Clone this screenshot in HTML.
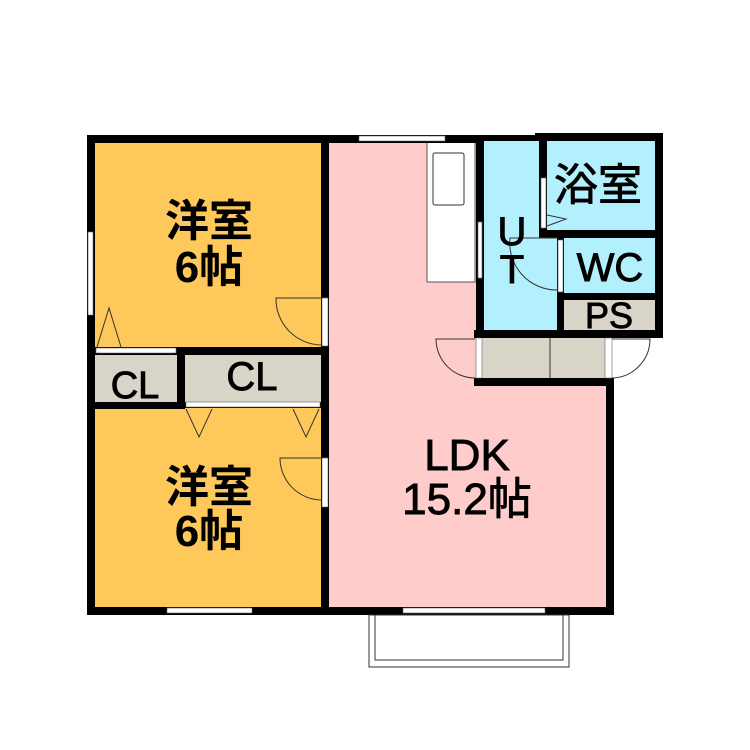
<!DOCTYPE html>
<html><head><meta charset="utf-8"><style>
html,body{margin:0;padding:0;background:#fff;}
svg{display:block;}
text{font-family:"Liberation Sans","Noto Sans CJK JP",sans-serif;fill:#000;text-anchor:middle;}
.m{stroke:#000;stroke-width:0.9;}
</style></head><body>
<svg width="750" height="750" viewBox="0 0 750 750" xmlns="http://www.w3.org/2000/svg">
<rect x="95" y="143" width="226" height="206" fill="#FEC95A"/>
<rect x="95" y="407" width="226" height="200" fill="#FEC95A"/>
<rect x="95" y="352" width="82" height="50" fill="#D8D4C7"/>
<rect x="185" y="352" width="136" height="50" fill="#D8D4C7"/>
<rect x="329" y="143" width="277" height="464" fill="#FFCCCC"/>
<rect x="484" y="141" width="73" height="189" fill="#B3F0FD"/>
<rect x="547" y="141" width="108" height="89" fill="#B3F0FD"/>
<rect x="564" y="238" width="91" height="55" fill="#B3F0FD"/>
<rect x="564" y="300" width="91" height="30" fill="#D8D4C7"/>
<rect x="482" y="338" width="123" height="40" fill="#D8D4C7"/>
<line x1="550" y1="338" x2="550" y2="378" stroke="#333" stroke-width="1"/>
<rect x="427" y="142" width="48" height="140" fill="#fff" stroke="#555" stroke-width="1"/>
<rect x="433" y="153" width="31" height="52" rx="2" fill="#fff" stroke="#333" stroke-width="1"/>
<g fill="#000">
<rect x="87" y="135" width="393" height="8"/>
<rect x="476" y="135" width="187" height="6"/>
<rect x="535" y="133" width="128" height="8"/>
<rect x="87" y="135" width="8" height="480"/>
<rect x="87" y="607" width="527" height="8"/>
<rect x="321" y="135" width="8" height="480"/>
<rect x="606" y="378" width="8" height="237"/>
<rect x="476" y="135" width="8" height="203"/>
<rect x="655" y="133" width="8" height="205"/>
<rect x="539" y="133" width="8" height="105"/>
<rect x="539" y="230" width="124" height="8"/>
<rect x="557" y="230" width="7" height="108"/>
<rect x="557" y="293" width="106" height="7"/>
<rect x="474" y="330" width="189" height="8"/>
<rect x="474" y="378" width="138" height="8"/>
<rect x="87" y="347" width="242" height="8"/>
<rect x="177" y="347" width="8" height="62"/>
<rect x="87" y="402" width="98" height="7"/>
<rect x="185" y="402" width="136" height="6"/>
</g>
<g fill="#fff" stroke="#666" stroke-width="0.6">
<rect x="96" y="348" width="80" height="5"/>
<rect x="186" y="402" width="134" height="5"/>
<rect x="88" y="232" width="5" height="83"/>
<rect x="322" y="298" width="6" height="48"/>
<rect x="322" y="458" width="6" height="49"/>
<rect x="167" y="608" width="85" height="5"/>
<rect x="403" y="608" width="142" height="5"/>
<rect x="359" y="136" width="86" height="5"/>
<rect x="478" y="222" width="4" height="56"/>
<rect x="541" y="178" width="5" height="50"/>
<rect x="558" y="240" width="5" height="52"/>
<rect x="476" y="338" width="6" height="40"/>
<rect x="605" y="338" width="7" height="40"/>
</g>
<g fill="none" stroke="#333" stroke-width="1">
<path d="M322 298 H276 A46 46 0 0 0 322 345"/>
<path d="M322 458 H280 A42 42 0 0 0 322 500"/>
<path d="M475 339 H436 A39 39 0 0 0 475 378"/>
<path d="M612 339 H650 A39 39 0 0 1 612 378"/>
<path d="M557 238 H510 A47 47 0 0 0 557 290"/>
<path d="M547 215 L566 219 L547 226"/>
<path d="M97 347 L109 308 L121 347"/>
<path d="M186 409 L199 437 L212 409"/>
<path d="M293 409 L306 437 L319 409"/>
<rect x="369" y="615" width="200" height="52"/>
<rect x="375" y="615" width="188" height="45"/>
</g>
<g font-weight="bold" font-size="44">
<text x="209" y="236">洋室</text>
<text x="209" y="282">6帖</text>
<text x="209" y="502">洋室</text>
<text x="209" y="546">6帖</text>
</g>
<g font-size="44" class="m">
<text x="467" y="470">LDK</text>
<text x="467" y="514">15.2帖</text>
</g>
<text class="m" x="598" y="200" font-size="44">浴室</text>
<text class="m" x="512" y="245" font-size="40">U</text>
<text class="m" x="512" y="283" font-size="40">T</text>
<text class="m" x="610" y="281" font-size="40">WC</text>
<text class="m" x="609" y="328" font-size="36">PS</text>
<text class="m" x="135" y="398" font-size="38">CL</text>
<text class="m" x="252" y="390" font-size="40">CL</text>
</svg>
</body></html>
